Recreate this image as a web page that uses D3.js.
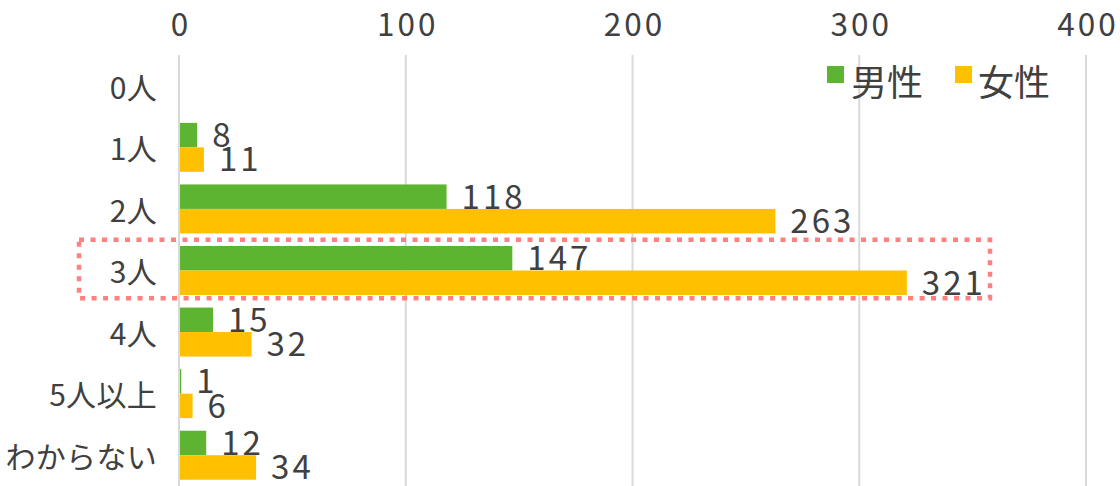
<!DOCTYPE html>
<html lang="ja">
<head>
<meta charset="utf-8">
<script src="https://cdn.jsdelivr.net/npm/d3@7"></script>
<style>
  html, body { margin: 0; padding: 0; background: #ffffff; }
  svg { display: block; }
  text { font-family: "Noto Sans CJK JP", "Noto Sans", sans-serif; fill: #404040; }
</style>
</head>
<body>
<svg id="chart" width="1120" height="486"></svg>
<script>
// 世帯人数別の回答数（男性・女性）
const categories = ["0人", "1人", "2人", "3人", "4人", "5人以上", "わからない"];
const seriesNames = ["男性", "女性"];
const maleValues = [null, 8, 118, 147, 15, 1, 12];
const femaleValues = [null, 11, 263, 321, 32, 6, 34];
const xTicks = [0, 100, 200, 300, 400];
const highlightCategory = "3人";

const colors = { "男性": "#5db431", "女性": "#ffc000" };
const fontFamily = "\"Noto Sans CJK JP\", \"Noto Sans\", sans-serif";

const rows = categories.map((c, i) => ({
  category: c,
  values: [
    { series: "男性", value: maleValues[i] },
    { series: "女性", value: femaleValues[i] }
  ]
}));

const svg = d3.select("#chart");

const x = d3.scaleLinear().domain([0, 400]).range([179, 1086]);
const y = d3.scaleBand().domain(categories).range([55, 486]).padding(0);
const ySub = d3.scaleBand().domain(seriesNames).range([0, y.bandwidth()])
  .paddingInner(0).paddingOuter(0.257);

// 縦の目盛線
svg.append("g")
  .selectAll("line")
  .data(xTicks)
  .join("line")
  .attr("x1", d => x(d)).attr("x2", d => x(d))
  .attr("y1", 55).attr("y2", 486)
  .attr("stroke", "#d9d9d9")
  .attr("stroke-width", 2);

// 上側の数値軸
const xAxis = d3.axisTop(x).tickValues(xTicks).tickSize(0).tickPadding(0);
const gx = svg.append("g").attr("transform", "translate(0,36)").call(xAxis);
gx.select(".domain").remove();
gx.selectAll("text")
  .attr("font-size", 31.5)
  .attr("letter-spacing", 3)
  .attr("dx", 1.5)
  .attr("dy", 0)
  .style("font-family", fontFamily)
  .style("fill", "#404040");

// 左側のカテゴリ軸
const yAxis = d3.axisLeft(y).tickSize(0).tickPadding(0);
const gy = svg.append("g").attr("transform", "translate(157,0)").call(yAxis);
gy.select(".domain").remove();
gy.selectAll("text")
  .attr("font-size", 30)
  .attr("letter-spacing", 0.3)
  .attr("dy", "0.36em")
  .attr("y", 2)
  .style("font-family", fontFamily)
  .style("fill", "#404040");

// 強調枠（点線）
svg.append("rect")
  .attr("x", 79)
  .attr("y", y(highlightCategory))
  .attr("width", 990 - 79)
  .attr("height", y.bandwidth() - 3)
  .attr("fill", "none")
  .attr("stroke", "#ff8080")
  .attr("stroke-width", 4.5)
  .attr("stroke-dasharray", "5 6.5");

// 棒
const groups = svg.append("g")
  .selectAll("g")
  .data(rows)
  .join("g")
  .attr("transform", d => `translate(0,${y(d.category)})`);

groups.selectAll("rect")
  .data(d => d.values.filter(v => v.value !== null))
  .join("rect")
  .attr("x", x(0) + 1)
  .attr("y", d => ySub(d.series))
  .attr("width", d => Math.max(0, x(d.value) - x(0) - 1))
  .attr("height", ySub.bandwidth())
  .attr("fill", d => colors[d.series]);

// 数値ラベル
groups.selectAll("text.value")
  .data(d => d.values.filter(v => v.value !== null))
  .join("text")
  .attr("class", "value")
  .attr("x", d => x(d.value) + 15)
  .attr("y", d => ySub(d.series) + ySub.bandwidth() / 2)
  .attr("dy", "0.36em")
  .attr("font-size", 33)
  .attr("letter-spacing", 3)
  .text(d => d.value);

// 凡例
const legendPos = [
  { series: "男性", x: 827, tx: 851 },
  { series: "女性", x: 955, tx: 978 }
];
const legend = svg.append("g");
legend.selectAll("rect")
  .data(legendPos)
  .join("rect")
  .attr("x", d => d.x).attr("y", 66)
  .attr("width", 17).attr("height", 17)
  .attr("fill", d => colors[d.series]);
legend.selectAll("text")
  .data(legendPos)
  .join("text")
  .attr("x", d => d.tx).attr("y", 96)
  .attr("font-size", 36)
  .text(d => d.series);
</script>
</body>
</html>
